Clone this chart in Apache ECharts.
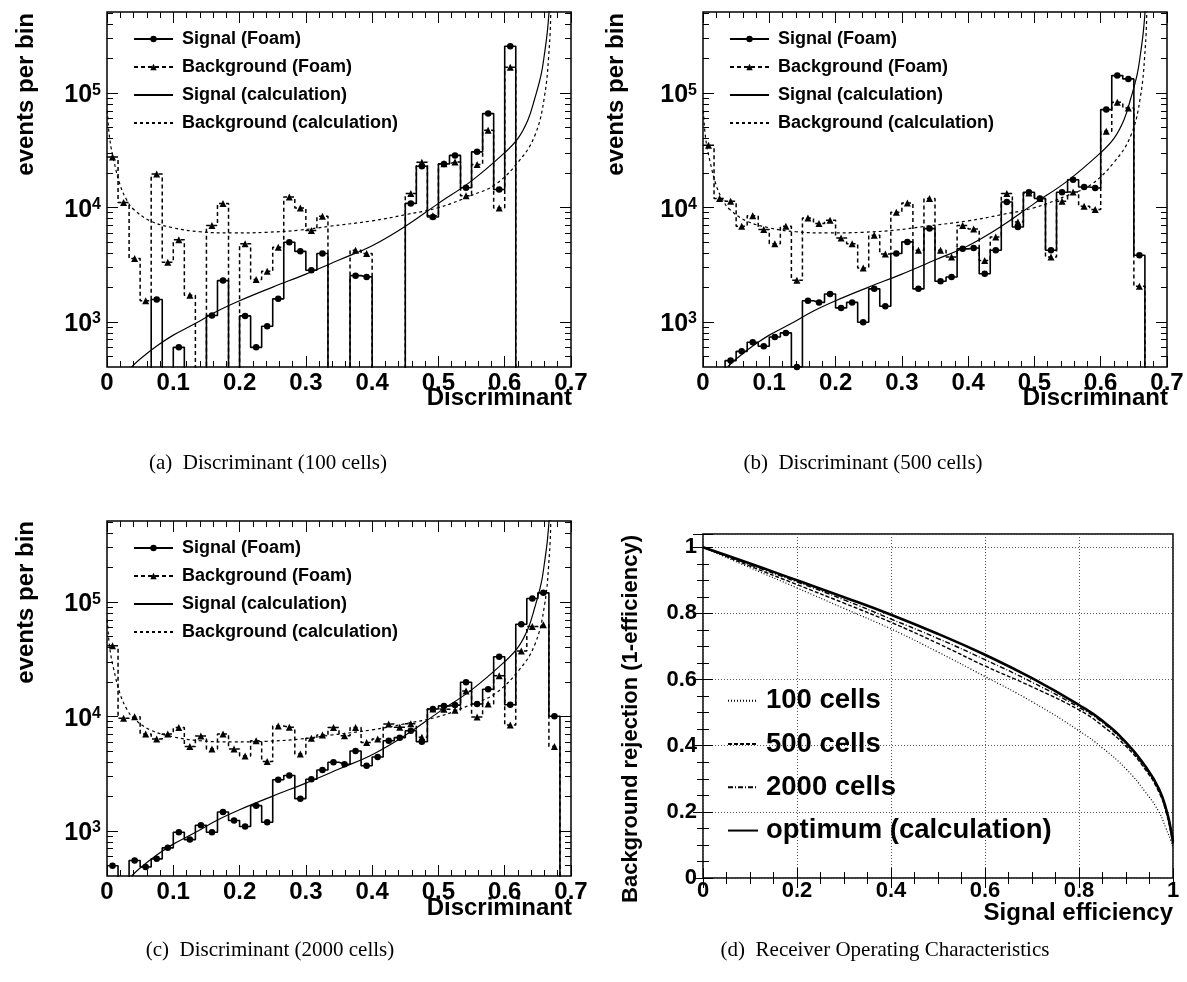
<!DOCTYPE html>
<html>
<head>
<meta charset="utf-8">
<title>Foam discriminant and ROC</title>
<script src="https://cdn.jsdelivr.net/npm/echarts@6/dist/echarts.min.js"></script>
<style>
  html, body { margin: 0; padding: 0; background: #fff; }
  #chart { width: 1187px; height: 982px; }
</style>
</head>
<body>
<div id="chart"></div>
<script>
// Binning of the discriminant histograms: equal bins on [0, 0.7]
const binLow = 0;
const binHigh = 0.7;
const nBins = 42;

// Foam histograms, events per bin (0 = empty bin)
const sigFoam100 = [0, 0, 0, 0, 1560, 0, 594, 0, 0, 1127, 2280, 0, 1120, 594, 908, 1578, 4930, 4110, 2805, 3930,
  0, 0, 2520, 2455, 0, 0, 0, 10800, 22800, 8220, 23900, 28400, 14800, 30500, 65900, 14300, 256000, 0, 0, 0, 0, 0];
const bkgFoam100 = [27500, 11000, 3550, 1520, 19500, 3300, 5200, 1700, 0, 6900, 10800, 0, 4780, 2330, 2750, 4470, 12300, 9860, 6240, 8320,
  0, 0, 4200, 3930, 0, 0, 0, 13150, 24700, 8400, 24000, 24900, 12600, 23600, 47100, 9860, 167500, 0, 0, 0, 0, 0];

const sigFoam500 = [0, 0, 455, 548, 658, 607, 733, 795, 400, 1520, 1470, 1743, 1315, 1470, 986, 1930, 1360, 3930, 4970, 1930,
  6500, 2250, 2450, 4320, 4400, 2620, 4200, 11100, 6720, 13500, 11900, 4200, 13500, 17400, 15000, 14700, 71400, 141600, 132500, 3800, 0, 0];
const bkgFoam500 = [34800, 11900, 11300, 6800, 8430, 6370, 4800, 6800, 2300, 8060, 7190, 7690, 5380, 4800, 2940, 5670, 3900, 9030, 10900, 4200,
  11900, 4200, 3670, 6900, 6460, 3410, 5500, 13150, 7430, 13300, 11900, 3670, 11300, 13600, 10200, 9530, 46100, 82800, 73900, 2030, 0, 0];

const sigFoam2000 = [491, 0, 547, 479, 565, 705, 966, 833, 1112, 966, 1450, 1225, 1085, 1650, 1180, 2780, 3030, 1900, 2810, 3380,
  3950, 3800, 4960, 3690, 4400, 6100, 6490, 7470, 5980, 11550, 12300, 12500, 19800, 12800, 17200, 33100, 12600, 63800, 107000, 120000, 10000, 0];
const bkgFoam2000 = [41300, 9580, 9900, 7000, 6330, 7000, 7950, 5420, 6720, 5170, 7000, 5170, 4490, 6110, 4010, 8220, 8000, 4670, 6400, 6840,
  7950, 6750, 7950, 5900, 6330, 8550, 8000, 8600, 6530, 11550, 11500, 11300, 16600, 9850, 12800, 22600, 8380, 37100, 61000, 63200, 5420, 0];

// Calculated distributions: [discriminant, events per bin]
const sigCalc = [[0.037, 400], [0.05, 470], [0.075, 610], [0.1, 760], [0.133, 960], [0.166, 1230], [0.2, 1520],
  [0.25, 2000], [0.3, 2600], [0.35, 3450], [0.4, 4600], [0.45, 6800], [0.5, 10800], [0.55, 17000], [0.6, 30000],
  [0.62, 40000], [0.635, 58000], [0.645, 88000], [0.655, 145000], [0.66, 220000], [0.664, 330000], [0.667, 520000]];
const bkgCalc = [[0.0005, 70000], [0.004, 40000], [0.01, 26000], [0.02, 15500], [0.03, 11500], [0.04, 9600], [0.065, 7600],
  [0.1, 6600], [0.14, 6100], [0.19, 5950], [0.24, 6030], [0.29, 6300], [0.335, 6800], [0.4, 7600], [0.45, 8600],
  [0.5, 9900], [0.55, 12700], [0.585, 15700], [0.62, 24700], [0.645, 41700], [0.66, 93000], [0.6677, 274000], [0.6695, 520000]];

// ROC curves: [signal efficiency, background rejection]
const roc100 = [[0, 1], [0.1, 0.938], [0.2, 0.877], [0.3, 0.815], [0.4, 0.753], [0.5, 0.683], [0.6, 0.609], [0.7, 0.533],
  [0.8, 0.445], [0.85, 0.393], [0.9, 0.33], [0.94, 0.262], [0.97, 0.2], [0.985, 0.15], [0.995, 0.114], [1, 0.09]];
const roc500 = [[0, 1], [0.1, 0.943], [0.2, 0.887], [0.3, 0.831], [0.4, 0.773], [0.5, 0.709], [0.6, 0.641], [0.7, 0.578],
  [0.8, 0.508], [0.85, 0.46], [0.9, 0.398], [0.94, 0.33], [0.97, 0.26], [0.987, 0.19], [0.995, 0.14], [1, 0.1]];
const roc2000 = [[0, 1], [0.1, 0.947], [0.2, 0.895], [0.3, 0.841], [0.4, 0.783], [0.5, 0.724], [0.6, 0.66], [0.7, 0.592],
  [0.8, 0.516], [0.85, 0.47], [0.9, 0.405], [0.94, 0.335], [0.97, 0.265], [0.987, 0.195], [0.995, 0.145], [1, 0.105]];
const rocOptimum = [[0, 1], [0.1, 0.951], [0.2, 0.9], [0.3, 0.849], [0.4, 0.796], [0.5, 0.738], [0.6, 0.675], [0.7, 0.604],
  [0.8, 0.523], [0.85, 0.475], [0.9, 0.41], [0.94, 0.34], [0.97, 0.27], [0.987, 0.2], [0.995, 0.15], [1, 0.11]];

// Axis ranges and texts
const histYRange = [400, 510000];
const discNames = ['Signal (Foam)', 'Background (Foam)', 'Signal (calculation)', 'Background (calculation)'];
const rocNames = ['100 cells', '500 cells', '2000 cells', 'optimum (calculation)'];
const captions = ['(a)  Discriminant (100 cells)', '(b)  Discriminant (500 cells)',
  '(c)  Discriminant (2000 cells)', '(d)  Receiver Operating Characteristics'];

const SANS = '"Liberation Sans", Arial, Helvetica, sans-serif';
const SERIF = '"Liberation Serif", "Times New Roman", serif';
const BLACK = '#000';

const binWidth = (binHigh - binLow) / nBins;
const binCenters = Array.from({ length: nBins }, (_, k) => binLow + (k + 0.5) * binWidth);

// Step outline through bin centres; empty bins fall below the log axis and are clipped
function histData(vals) {
  const y = v => (v > 0 ? v : 1);
  const pts = [{ value: [binLow, y(vals[0])], symbol: 'none' }];
  vals.forEach((v, k) => pts.push([binCenters[k], y(v)]));
  pts.push({ value: [binHigh, y(vals[nBins - 1])], symbol: 'none' });
  return pts;
}

// Decade and sub-decade tick values inside the log range: [x, value, isDecade]
function logTickData() {
  const out = [];
  for (let e = 2; e <= 5; e++) {
    for (let m = 1; m <= 9; m++) {
      const v = m * Math.pow(10, e);
      if (v > histYRange[0] && v < histYRange[1]) out.push([binLow, v, m === 1 ? 1 : 0]);
    }
  }
  return out;
}

function powerLabel(v) {
  const e = Math.round(Math.log10(v));
  return Math.abs(v / Math.pow(10, e) - 1) < 1e-9 ? '{b|10}{s|' + e + '}' : '';
}

const tickStyle = { color: BLACK, width: 1 };

function discXAxis(gi, pos, labels) {
  return {
    type: 'value', gridIndex: gi, position: pos, min: 0, max: 0.7, interval: 0.1,
    axisLine: { show: false }, splitLine: { show: false },
    axisTick: { show: true, inside: true, length: 11, lineStyle: tickStyle },
    minorTick: { show: true, splitNumber: 5, length: 6, lineStyle: tickStyle },
    axisLabel: { show: labels, margin: 4, color: BLACK, fontFamily: SANS, fontWeight: 'bold', fontSize: 24 }
  };
}

function discYAxis(gi, pos, labels) {
  return {
    type: 'log', logBase: 10, gridIndex: gi, position: pos, min: histYRange[0], max: histYRange[1],
    axisLine: { show: false }, splitLine: { show: false },
    axisTick: { show: false }, minorTick: { show: false },
    axisLabel: {
      show: labels, margin: 6, showMinLabel: false, showMaxLabel: false, formatter: powerLabel,
      padding: [5, 0, 0, 0],
      rich: {
        b: { fontFamily: SANS, fontWeight: 'bold', fontSize: 25, lineHeight: 26, color: BLACK },
        s: { fontFamily: SANS, fontWeight: 'bold', fontSize: 16, lineHeight: 16, verticalAlign: 'top', color: BLACK }
      }
    }
  };
}

function rocAxis(gi, dim, pos, labels) {
  const isX = dim === 'x';
  return {
    type: 'value', gridIndex: gi, position: pos, min: 0, max: isX ? 1 : 1.04, interval: 0.2,
    axisLine: { show: false },
    splitLine: { show: labels, lineStyle: { color: '#555', width: 1, type: [1, 2] } },
    axisTick: { show: true, inside: true, length: 10, lineStyle: tickStyle },
    minorTick: { show: true, splitNumber: 4, length: 6, lineStyle: tickStyle },
    axisLabel: {
      show: labels, margin: isX ? 2 : 6, showMaxLabel: isX, color: BLACK,
      fontFamily: SANS, fontWeight: 'bold', fontSize: 22
    }
  };
}

const grids = [
  { left: 107, top: 12, width: 464, height: 355 },
  { left: 703, top: 12, width: 464, height: 355 },
  { left: 107, top: 521, width: 464, height: 355 },
  { left: 703, top: 534, width: 470, height: 344 }
].map(g => Object.assign(g, { show: true, borderColor: BLACK, borderWidth: 1.5, backgroundColor: '#fff', outerBoundsMode: 'none' }));

const xAxes = [], yAxes = [];
for (let i = 0; i < 3; i++) {
  xAxes.push(discXAxis(i, 'bottom', true), discXAxis(i, 'top', false));
  yAxes.push(discYAxis(i, 'left', true), discYAxis(i, 'right', false));
}
xAxes.push(rocAxis(3, 'x', 'bottom', true), rocAxis(3, 'x', 'top', false));
yAxes.push(rocAxis(3, 'y', 'left', true), rocAxis(3, 'y', 'right', false));

const panels = [
  { sig: sigFoam100, bkg: bkgFoam100 },
  { sig: sigFoam500, bkg: bkgFoam500 },
  { sig: sigFoam2000, bkg: bkgFoam2000 }
];

const series = [];
panels.forEach((p, i) => {
  const ax = { xAxisIndex: 2 * i, yAxisIndex: 2 * i };
  // inward tick marks of the log axis on both sides of the frame
  series.push({
    type: 'custom', ...ax, data: logTickData(), encode: { x: 0, y: 1 }, silent: true, clip: false, z: 5,
    renderItem(params, api) {
      const cs = params.coordSys;
      const y = Math.round(api.coord([api.value(0), api.value(1)])[1]) + 0.5;
      const len = api.value(2) ? 11 : 6;
      const st = { stroke: BLACK, lineWidth: 1 };
      return {
        type: 'group', children: [
          { type: 'line', shape: { x1: cs.x, y1: y, x2: cs.x + len, y2: y }, style: st },
          { type: 'line', shape: { x1: cs.x + cs.width - len, y1: y, x2: cs.x + cs.width, y2: y }, style: st }
        ]
      };
    }
  });
  series.push({
    type: 'line', name: discNames[2], ...ax, data: sigCalc, smooth: 0.4,
    symbol: 'none', lineStyle: { color: BLACK, width: 1.2 }, itemStyle: { color: BLACK }, z: 2
  });
  series.push({
    type: 'line', name: discNames[3], ...ax, data: bkgCalc, smooth: 0.4,
    symbol: 'none', lineStyle: { color: BLACK, width: 1.2, type: [3, 3] }, itemStyle: { color: BLACK }, z: 2
  });
  series.push({
    type: 'line', name: discNames[1], ...ax, data: histData(p.bkg), step: 'middle',
    symbol: 'triangle', symbolSize: 7, showAllSymbol: true,
    lineStyle: { color: BLACK, width: 1.5, type: [4, 3] }, itemStyle: { color: BLACK }, z: 3
  });
  series.push({
    type: 'line', name: discNames[0], ...ax, data: histData(p.sig), step: 'middle',
    symbol: 'circle', symbolSize: 6.5, showAllSymbol: true,
    lineStyle: { color: BLACK, width: 1.6 }, itemStyle: { color: BLACK }, z: 4
  });
});

const rocSeries = [
  { name: rocNames[0], data: roc100, lineStyle: { type: [1, 2], width: 1.2 } },
  { name: rocNames[1], data: roc500, lineStyle: { type: [4, 2], width: 1.4 } },
  { name: rocNames[2], data: roc2000, lineStyle: { type: [5, 2, 1, 2], width: 1.4 } },
  { name: rocNames[3], data: rocOptimum, lineStyle: { type: 'solid', width: 2.6 } }
];
rocSeries.forEach((s, k) => {
  series.push({
    type: 'line', name: s.name, xAxisIndex: 6, yAxisIndex: 6, data: s.data, smooth: 0.5,
    symbol: 'none', lineStyle: Object.assign({ color: BLACK }, s.lineStyle), itemStyle: { color: BLACK }, z: 2 + k
  });
});

// legend entries for plain curves carry no marker
const noMarker = { color: 'rgba(0,0,0,0)', borderWidth: 0, opacity: 0 };

function discLegend(left, top) {
  return {
    data: [discNames[0], discNames[1], { name: discNames[2], itemStyle: noMarker }, { name: discNames[3], itemStyle: noMarker }],
    orient: 'vertical', left: left, top: top, padding: 0, itemGap: 0,
    itemWidth: 39, itemHeight: 8, selectedMode: false,
    textStyle: { color: BLACK, fontFamily: SANS, fontWeight: 'bold', fontSize: 18, lineHeight: 28, padding: [0, 0, 0, 4] }
  };
}

const legends = [
  discLegend(133, 25),
  discLegend(729, 25),
  discLegend(133, 534),
  {
    data: rocNames.map(n => ({ name: n, itemStyle: noMarker })),
    orient: 'vertical', left: 727, top: 679, padding: 0, itemGap: 0,
    itemWidth: 30, itemHeight: 8, selectedMode: false,
    textStyle: { color: BLACK, fontFamily: SANS, fontWeight: 'bold', fontSize: 27.5, lineHeight: 43.3, padding: [0, 0, 0, 3] }
  }
];

function txt(x, y, text, font, align, rotated) {
  return {
    type: 'text', x: x, y: y, rotation: rotated ? Math.PI / 2 : 0, silent: true,
    style: {
      text: text, font: font, fill: BLACK,
      align: align, verticalAlign: 'middle', textAlign: align, textVerticalAlign: 'middle'
    }
  };
}

const titleFont = 'bold 24px ' + SANS;
const graphics = [
  txt(26, 13, 'events per bin', titleFont, 'right', true),
  txt(616, 13, 'events per bin', titleFont, 'right', true),
  txt(26, 521, 'events per bin', titleFont, 'right', true),
  txt(631, 535, 'Background rejection (1-efficiency)', 'bold 22px ' + SANS, 'right', true),
  txt(572, 398, 'Discriminant', titleFont, 'right', false),
  txt(1168, 398, 'Discriminant', titleFont, 'right', false),
  txt(572, 908, 'Discriminant', titleFont, 'right', false),
  txt(1173, 913, 'Signal efficiency', titleFont, 'right', false),
  txt(268, 463, captions[0], '21px ' + SERIF, 'center', false),
  txt(863, 463, captions[1], '21px ' + SERIF, 'center', false),
  txt(270, 950, captions[2], '21px ' + SERIF, 'center', false),
  txt(885, 950, captions[3], '21px ' + SERIF, 'center', false)
];

const chart = echarts.init(document.getElementById('chart'), null, { renderer: 'canvas' });
chart.setOption({
  animation: false,
  backgroundColor: '#fff',
  color: [BLACK],
  grid: grids,
  xAxis: xAxes,
  yAxis: yAxes,
  legend: legends,
  series: series,
  graphic: graphics
});
</script>
</body>
</html>
